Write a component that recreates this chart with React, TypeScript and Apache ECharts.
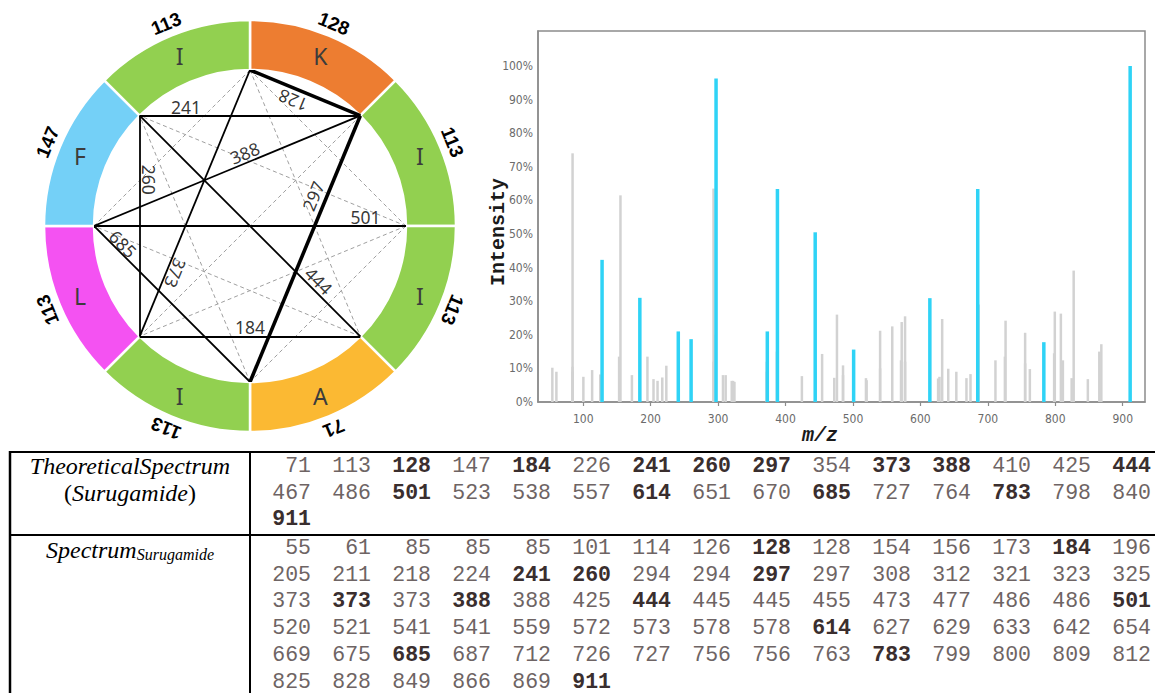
import React, { useEffect, useRef } from "react";
import * as echarts from "echarts";

// ---- cyclic peptide ring (clockwise from 12 o'clock) ----
const residues = ["K", "I", "I", "A", "I", "L", "F", "I"];
const residueMasses = [128, 113, 113, 71, 113, 113, 147, 113];
const residueColors = ["#ed7d31", "#92d050", "#92d050", "#fbb933", "#92d050", "#f452f2", "#74d0f7", "#92d050"];

// chords between ring vertices (vertex k sits at k*45deg clockwise from the top)
// [from, to, sub-peptide mass]; text reads from -> to
const matchedChords: [number, number, number][] = [
  [1, 0, 128], [7, 1, 241], [6, 1, 388], [7, 5, 260], [4, 1, 297],
  [6, 2, 501], [6, 4, 685], [0, 5, 373], [7, 3, 444], [5, 3, 184],
];
const heavyChords = [128, 297];
const unmatchedChords: [number, number][] = [
  [0, 2], [0, 3], [0, 6], [1, 5], [2, 4], [2, 5], [2, 7], [3, 6], [4, 7],
];

// ---- spectra ----
const theoreticalSpectrum = [
  71, 113, 128, 147, 184, 226, 241, 260, 297, 354, 373, 388, 410, 425, 444,
  467, 486, 501, 523, 538, 557, 614, 651, 670, 685, 727, 764, 783, 798, 840,
  911,
];
const matchedMasses = [128, 184, 241, 260, 297, 373, 388, 444, 501, 614, 685, 783, 911];

const spectrumPeaks = [
  55, 61, 85, 85, 85, 101, 114, 126, 128, 128, 154, 156, 173, 184, 196,
  205, 211, 218, 224, 241, 260, 294, 294, 297, 297, 308, 312, 321, 323, 325,
  373, 373, 373, 388, 388, 425, 444, 445, 445, 455, 473, 477, 486, 486, 501,
  520, 521, 541, 541, 559, 572, 573, 578, 578, 614, 627, 629, 633, 642, 654,
  669, 675, 685, 687, 712, 726, 727, 756, 756, 763, 783, 799, 800, 809, 812,
  825, 828, 849, 866, 869, 911,
];
// relative intensity (%) of each peak above
const spectrumIntensity = [
  10.2, 9, 74, 10.5, 9, 7.5, 9.5, 8.2, 42.3, 8, 13.5, 61.5, 8, 31, 13.5,
  6.8, 6.3, 7.3, 10.8, 21, 18.7, 63.5, 12, 96.3, 20, 8, 8, 6.3, 6.3, 6,
  12, 21, 9, 63.4, 15, 7.7, 50.5, 11, 9, 14.3, 7.2, 26, 10.9, 8, 15.6,
  7.1, 6.5, 21.2, 10, 22.5, 12.4, 23.8, 25.5, 12, 30.9, 7, 7.5, 24.7, 9.9, 9,
  7.1, 8.3, 63.4, 29, 12.4, 13.5, 24.2, 20.6, 11.5, 9.8, 17.8, 14.5, 26.9, 26.3, 12.4,
  7.1, 39.1, 6.8, 15, 17.2, 100,
];
// which spectrum entries coincide with a theoretical mass
const matchedPeakIndex = [8, 13, 19, 20, 23, 31, 33, 36, 44, 54, 62, 70, 80];

const mzTicks = [100, 200, 300, 400, 500, 600, 700, 800, 900];
const intensityTicks = [0, 10, 20, 30, 40, 50, 60, 70, 80, 90, 100];

// ---- layout ----
const RING_CX = 250;
const RING_CY = 226;
const RING_R0 = 156;
const RING_R1 = 206;

// where each chord label sits: [fraction along chord, offset above chord in px]
const chordLabelPlacement: Record<number, [number, number]> = {
  128: [0.57, 12], 241: [0.21, 9], 388: [0.58, 10], 260: [0.29, 9], 297: [0.68, 13],
  501: [0.87, 9], 685: [0.15, 8], 373: [0.75, 9], 444: [0.78, 10], 184: [0.5, 9.5],
};

const ROW_H = 26.7;
const CHAR_W = 15;
const NUM_X0 = 266;
const PER_ROW = 15;

function vertexScreen(k: number): [number, number] {
  const a = (k * Math.PI) / 4;
  return [Math.sin(a), -Math.cos(a)]; // unit radius, y pointing down
}
const toData = (p: [number, number]): [number, number] => [p[0], -p[1]];

function chordLabel(from: number, to: number, mass: number) {
  const [t, off] = chordLabelPlacement[mass];
  const a = vertexScreen(from);
  const b = vertexScreen(to);
  const d = [b[0] - a[0], b[1] - a[1]];
  const len = Math.hypot(d[0], d[1]);
  const u = [d[0] / len, d[1] / len];
  const up = [u[1], -u[0]];
  const k = off / RING_R0;
  const p: [number, number] = [a[0] + t * d[0] + k * up[0], a[1] + t * d[1] + k * up[1]];
  const rot = (-Math.atan2(u[1], u[0]) * 180) / Math.PI;
  return {
    value: toData(p),
    label: { show: true, position: "inside", formatter: String(mass), rotate: rot },
  };
}

function chunk<T>(arr: T[], n: number): T[][] {
  const out: T[][] = [];
  for (let i = 0; i < arr.length; i += n) out.push(arr.slice(i, i + n));
  return out;
}

function numberToken(v: number, bold: boolean, col: number, y: number) {
  return {
    type: "text",
    x: NUM_X0 + (col * 4 + 3) * CHAR_W,
    y,
    silent: true,
    style: {
      text: String(v),
      fill: bold ? "#3a2e2e" : "#6e6464",
      fontFamily: "Liberation Mono",
      fontSize: 21.5,
      fontWeight: bold ? "bold" : "normal",
      align: "right",
      textAlign: "right",
      verticalAlign: "middle",
      textVerticalAlign: "middle",
    },
  };
}

function tableGraphics() {
  const els: any[] = [];
  const line = (x1: number, y1: number, x2: number, y2: number, w: number) => ({
    type: "line",
    silent: true,
    shape: { x1, y1, x2, y2 },
    style: { stroke: "#000", lineWidth: w },
  });
  els.push(line(10, 452, 1155, 452, 2));
  els.push(line(10, 535, 1155, 535, 2));
  els.push(line(10, 451, 10, 693, 2.5));
  els.push(line(250, 451, 250, 693, 2));

  const theoTop = 466;
  chunk(theoreticalSpectrum, PER_ROW).forEach((row, r) =>
    row.forEach((v, c) => els.push(numberToken(v, matchedMasses.includes(v), c, theoTop + r * ROW_H)))
  );
  const specTop = 548;
  spectrumPeaks.forEach((v, i) => {
    const r = Math.floor(i / PER_ROW);
    const c = i % PER_ROW;
    els.push(numberToken(v, matchedPeakIndex.includes(i), c, specTop + r * ROW_H));
  });

  const serif = "Liberation Serif";
  els.push({
    type: "text", x: 130, y: theoTop, silent: true,
    style: {
      text: "TheoreticalSpectrum", fill: "#000", fontFamily: serif, fontSize: 24, fontStyle: "italic",
      align: "center", textAlign: "center", verticalAlign: "middle", textVerticalAlign: "middle",
    },
  });
  els.push({
    type: "text", x: 130, y: theoTop + ROW_H, silent: true,
    style: {
      text: "{n|(}{i|Surugamide}{n|)}",
      align: "center", textAlign: "center", verticalAlign: "middle", textVerticalAlign: "middle",
      rich: {
        n: { fontFamily: serif, fontSize: 24, fill: "#000", color: "#000" },
        i: { fontFamily: serif, fontSize: 24, fontStyle: "italic", fill: "#000", color: "#000" },
      },
    },
  });
  els.push({
    type: "text", x: 130, y: specTop + 1, silent: true,
    style: {
      text: "{m|Spectrum}{s|Surugamide}",
      align: "center", textAlign: "center", verticalAlign: "middle", textVerticalAlign: "middle",
      rich: {
        m: { fontFamily: serif, fontSize: 24, fontStyle: "italic", fill: "#000", color: "#000", lineHeight: 26, verticalAlign: "bottom" },
        s: { fontFamily: serif, fontSize: 16, fontStyle: "italic", fill: "#000", color: "#000", lineHeight: 12, verticalAlign: "bottom" },
      },
    },
  });
  return els;
}

function buildOption(): any {
  const ringData = residues.map((r, i) => ({
    name: r,
    value: 1,
    itemStyle: { color: residueColors[i] },
  }));
  const massData = residueMasses.map((m, i) => ({
    name: `${residues[i]}${i}`,
    value: 1,
    label: { formatter: String(m), rotate: -(22.5 + 45 * i) },
  }));

  const dashed = unmatchedChords.map(([a, b]) => ({
    coords: [toData(vertexScreen(a)), toData(vertexScreen(b))],
    lineStyle: { color: "#a0a0a0", width: 1, type: [4, 3], opacity: 1 },
  }));
  const solid = matchedChords.map(([a, b, m]) => ({
    coords: [toData(vertexScreen(a)), toData(vertexScreen(b))],
    lineStyle: { color: "#000", width: heavyChords.includes(m) ? 3.6 : 1.8, type: "solid", opacity: 1 },
  }));

  const grayBars = spectrumPeaks
    .map((mz, i) => [mz, spectrumIntensity[i], i])
    .filter((d) => !matchedPeakIndex.includes(d[2] as number))
    .map((d) => [d[0], d[1]]);
  const blueBars = matchedPeakIndex.map((i) => [spectrumPeaks[i], spectrumIntensity[i]]);

  const axisGray = "#8c8c8c";
  const labelGray = "#6b6b6b";

  return {
    animation: false,
    backgroundColor: "#ffffff",
    grid: [
      { left: 538, top: 31, width: 607, height: 371, show: true, borderColor: axisGray, borderWidth: 1.5, backgroundColor: "transparent" },
      { left: RING_CX - RING_R0, top: RING_CY - RING_R0, width: 2 * RING_R0, height: 2 * RING_R0, show: false },
    ],
    xAxis: [
      {
        type: "value", gridIndex: 0, min: 33, max: 933,
        axisLine: { show: true, lineStyle: { color: axisGray, width: 1.5 } },
        axisTick: { show: true, length: 4, customValues: mzTicks, lineStyle: { color: axisGray, width: 1.2 } },
        axisLabel: { customValues: mzTicks, color: labelGray, fontSize: 12, margin: 11, fontFamily: "DejaVu Sans Condensed" },
        splitLine: { show: false },
      },
      { type: "value", gridIndex: 1, min: -1, max: 1, show: false },
    ],
    yAxis: [
      {
        type: "value", gridIndex: 0, min: 0, max: 110.4,
        axisLine: { show: true, lineStyle: { color: axisGray, width: 1.5 } },
        axisTick: { show: false },
        axisLabel: { customValues: intensityTicks, formatter: "{value}%", color: labelGray, fontSize: 12, margin: 5, fontFamily: "DejaVu Sans Condensed" },
        splitLine: { show: false },
      },
      { type: "value", gridIndex: 1, min: -1, max: 1, show: false },
    ],
    series: [
      {
        type: "bar", name: "spectrum", xAxisIndex: 0, yAxisIndex: 0,
        data: grayBars, barWidth: 2.5, barGap: "-100%", silent: true,
        itemStyle: { color: "#d2d2d2" }, z: 2,
      },
      {
        type: "bar", name: "matched", xAxisIndex: 0, yAxisIndex: 0,
        data: blueBars, barWidth: 3.5, barGap: "-100%", silent: true,
        itemStyle: { color: "#2fd3f6" }, z: 3,
      },
      {
        type: "pie", name: "residues", center: [RING_CX, RING_CY], radius: [RING_R0, RING_R1],
        startAngle: 90, clockwise: true, silent: true, data: ringData,
        itemStyle: { borderColor: "#ffffff", borderWidth: 2.5 },
        label: { show: true, position: "inside", color: "#3c3c3c", fontSize: 23, fontFamily: "Noto Sans" },
        labelLine: { show: false },
        emphasis: { disabled: true },
      },
      {
        type: "pie", name: "masses", center: [RING_CX, RING_CY], radius: [RING_R1, RING_R1 + 20],
        startAngle: 90, clockwise: true, silent: true, data: massData,
        itemStyle: { color: "rgba(0,0,0,0)" },
        label: { show: true, position: "inside", color: "#000", fontSize: 19, fontWeight: "bold", fontFamily: "Liberation Sans" },
        labelLine: { show: false },
        emphasis: { disabled: true },
      },
      {
        type: "lines", coordinateSystem: "cartesian2d", xAxisIndex: 1, yAxisIndex: 1,
        silent: true, z: 4, data: dashed,
      },
      {
        type: "lines", coordinateSystem: "cartesian2d", xAxisIndex: 1, yAxisIndex: 1,
        silent: true, z: 5, data: solid,
      },
      {
        type: "scatter", xAxisIndex: 1, yAxisIndex: 1, silent: true, z: 6,
        symbolSize: 1, itemStyle: { color: "rgba(0,0,0,0)" },
        label: { color: "#000", fontSize: 17.5, fontFamily: "Noto Sans" },
        data: matchedChords.map(([a, b, m]) => chordLabel(a, b, m)),
      },
    ],
    graphic: [
      {
        type: "text", x: 498, y: 232, rotation: Math.PI / 2, silent: true,
        style: {
          text: "Intensity", fill: "#1a1a1a", fontFamily: "Liberation Mono", fontSize: 20, fontWeight: "bold",
          align: "center", textAlign: "center", verticalAlign: "middle", textVerticalAlign: "middle",
        },
      },
      {
        type: "text", x: 820, y: 435, silent: true,
        style: {
          text: "m/z", fill: "#1a1a1a", fontFamily: "Liberation Mono", fontSize: 20, fontWeight: "bold", fontStyle: "italic",
          align: "center", textAlign: "center", verticalAlign: "middle", textVerticalAlign: "middle",
        },
      },
      ...tableGraphics(),
    ],
  };
}

export default function App() {
  const ref = useRef<HTMLDivElement>(null);
  useEffect(() => {
    if (!ref.current) return;
    const chart = echarts.init(ref.current, null, { renderer: "svg" });
    chart.setOption(buildOption());
    return () => chart.dispose();
  }, []);
  return (
    <div
      ref={ref}
      style={{ position: "fixed", left: 0, top: 0, width: 1155, height: 693, background: "#ffffff" }}
    />
  );
}
